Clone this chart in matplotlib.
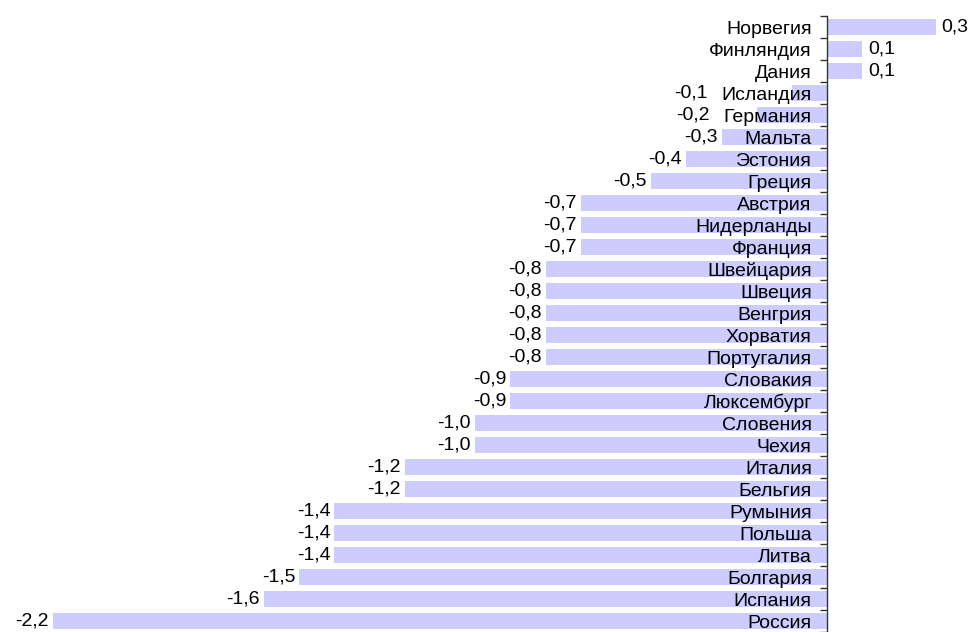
import matplotlib.pyplot as plt
import numpy as np

countries = ["Норвегия", "Финляндия", "Дания", "Исландия", "Германия", "Мальта",
             "Эстония", "Греция", "Австрия", "Нидерланды", "Франция", "Швейцария",
             "Швеция", "Венгрия", "Хорватия", "Португалия", "Словакия", "Люксембург",
             "Словения", "Чехия", "Италия", "Бельгия", "Румыния", "Польша", "Литва",
             "Болгария", "Испания", "Россия"]
values = [0.31, 0.1, 0.1, -0.1, -0.2, -0.3, -0.4, -0.5, -0.7, -0.7, -0.7, -0.8,
          -0.8, -0.8, -0.8, -0.8, -0.9, -0.9, -1.0, -1.0, -1.2, -1.2, -1.4, -1.4,
          -1.4, -1.5, -1.6, -2.2]

plt.rcParams['font.family'] = ['Liberation Sans', 'DejaVu Sans']
FS = 14

fig = plt.figure(figsize=(9.71, 6.32), dpi=100)
ax = fig.add_axes([53 / 971, 0.0, 1 - 53 / 971, 1 - 16 / 632])

y = np.arange(len(countries))
ax.barh(y, values, height=0.73, color="#ccccff", zorder=1)

ax.set_xlim(-2.2, 0.409)
ax.set_ylim(len(countries) - 0.5, -0.5)

# axis line at zero
for s in ["top", "right", "bottom"]:
    ax.spines[s].set_visible(False)
ax.spines["left"].set_position(("data", 0))
ax.spines["left"].set_color("#333333")
ax.spines["left"].set_linewidth(1.0)
ax.xaxis.set_visible(False)

ax.set_yticks(y)
ax.set_yticklabels(countries, fontsize=FS)
ax.tick_params(axis="y", which="major", length=0, pad=11)
ax.set_yticks(np.arange(len(countries) + 1) - 0.5, minor=True)
ax.tick_params(axis="y", which="minor", length=5, width=1.0, color="#333333", direction="out")

# find where category labels start so value labels don't collide with them
fig.canvas.draw()
renderer = fig.canvas.get_renderer()
inv = ax.transData.inverted()
label_left = []
for lab in ax.get_yticklabels():
    bb = lab.get_window_extent(renderer)
    label_left.append(inv.transform((bb.x0 - 10, bb.y0))[0])

for yi, v, ll in zip(y, values, label_left):
    txt = f"{v:.1f}".replace(".", ",")
    if v >= 0:
        ax.annotate(txt, (v, yi), xytext=(4, 0), textcoords="offset points",
                    ha="left", va="center", fontsize=FS, annotation_clip=False)
    else:
        ax.annotate(txt, (min(v, ll), yi), xytext=(-3, 0), textcoords="offset points",
                    ha="right", va="center", fontsize=FS, annotation_clip=False)

fig.savefig("out.png", dpi=100)
